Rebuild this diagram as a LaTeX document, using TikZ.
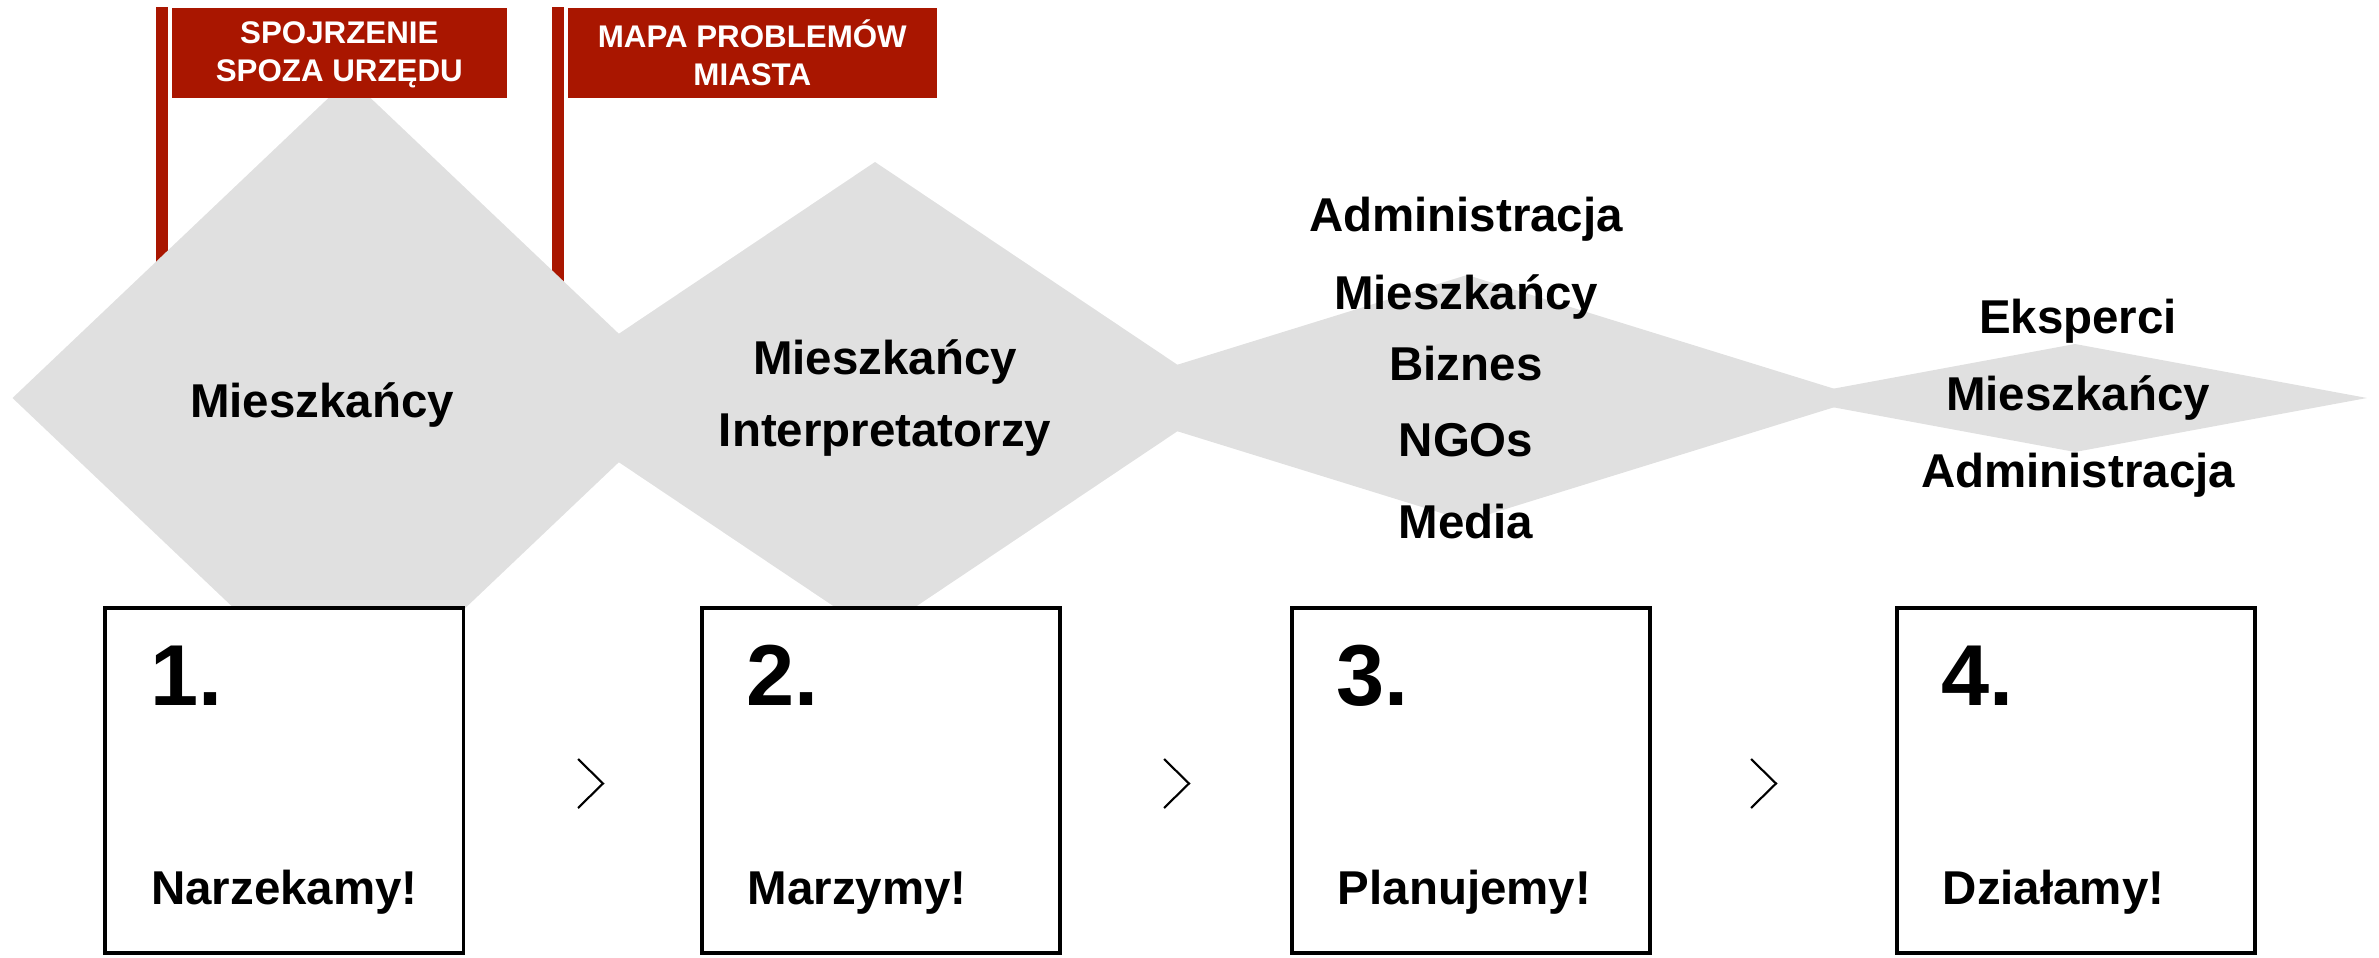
\documentclass[tikz,border=0pt]{standalone}
\usepackage{fontspec}
\setmainfont{Liberation Sans}
\definecolor{brick}{RGB}{169,22,0}
\definecolor{paleshade}{RGB}{224,224,224}

\begin{document}
\begin{tikzpicture}[x=0.01cm,y=-0.01cm,
    word node/.style={font=\fontsize{13.5}{16}\selectfont\bfseries,inner sep=0,anchor=base},
    num node/.style={font=\fontsize{24.6}{28}\selectfont\bfseries,inner sep=0,anchor=base west},
    step node/.style={draw,line width=1.1pt,fill=white,minimum width=3.58cm,minimum height=3.45cm,inner sep=0,anchor=north west},
    flag node/.style={fill=brick,text=white,font=\fontsize{8.9}{10.8}\selectfont\bfseries,align=center,minimum width=3.35cm,minimum height=0.9cm,inner sep=0,anchor=north west},
    pole/.style={fill=brick},
    blob/.style={fill=paleshade},
    chevron/.style={draw,line width=0.6pt}]
    \useasboundingbox (0,0) rectangle (2379,958);

    \fill[pole] (156,7) rectangle (168,400);
    \fill[pole] (552,7) rectangle (564,400);

    \fill[blob] (12.5,398) -- (349.5,78) -- (686.5,398) -- (349.5,718) -- cycle;
    \fill[blob] (523,398) -- (875,162) -- (1227,398) -- (875,634) -- cycle;
    \fill[blob] (1070,398) -- (1467,275) -- (1864,398) -- (1467,521) -- cycle;
    \fill[blob] (1783,398) -- (2075,344) -- (2367,398) -- (2075,452) -- cycle;

    \node[flag node] (f1) at (171,7) {\strut SPOJRZENIE\\SPOZA URZĘDU};
    \node[flag node,minimum width=3.69cm] (f2) at (567,7) {\strut MAPA PROBLEMÓW\\MIASTA};

    \node[word node] (m1) at (322,418) {Mieszkańcy};
    \node[word node] (m2) at (885,375) {Mieszkańcy};
    \node[word node] (i2) at (885,446) {Interpretatorzy};
    \node[word node] (a3) at (1466,232) {Administracja};
    \node[word node] (m3) at (1466,310) {Mieszkańcy};
    \node[word node] (b3) at (1466,381) {Biznes};
    \node[word node] (ngo3) at (1466,456) {NGOs};
    \node[word node] (me3) at (1466,538) {Media};
    \node[word node] (e4) at (2078,334) {Eksperci};
    \node[word node] (m4) at (2078,410) {Mieszkańcy};
    \node[word node] (a4) at (2078,488) {Administracja};

    \node[step node] (s1) at (103.4,605.8) {};
    \node[step node] (s2) at (700,605.8) {};
    \node[step node] (s3) at (1290,605.8) {};
    \node[step node] (s4) at (1895,605.8) {};

    \node[num node] (n1) at ([xshift=0.46cm,yshift=-1cm]s1.north west) {1.};
    \node[num node] (n2) at ([xshift=0.46cm,yshift=-1cm]s2.north west) {2.};
    \node[num node] (n3) at ([xshift=0.46cm,yshift=-1cm]s3.north west) {3.};
    \node[num node] (n4) at ([xshift=0.46cm,yshift=-1cm]s4.north west) {4.};

    \node[word node,anchor=base west] (t1) at ([xshift=0.47cm,yshift=-2.99cm]s1.north west) {Narzekamy!};
    \node[word node,anchor=base west] (t2) at ([xshift=0.47cm,yshift=-2.99cm]s2.north west) {Marzymy!};
    \node[word node,anchor=base west] (t3) at ([xshift=0.47cm,yshift=-2.99cm]s3.north west) {Planujemy!};
    \node[word node,anchor=base west] (t4) at ([xshift=0.47cm,yshift=-2.99cm]s4.north west) {Działamy!};

    \path[chevron] (578,759) -- (603,783.5) -- (578,808);
    \path[chevron] (1164,759) -- (1189,783.5) -- (1164,808);
    \path[chevron] (1751,759) -- (1776,783.5) -- (1751,808);

\end{tikzpicture}
\end{document}
